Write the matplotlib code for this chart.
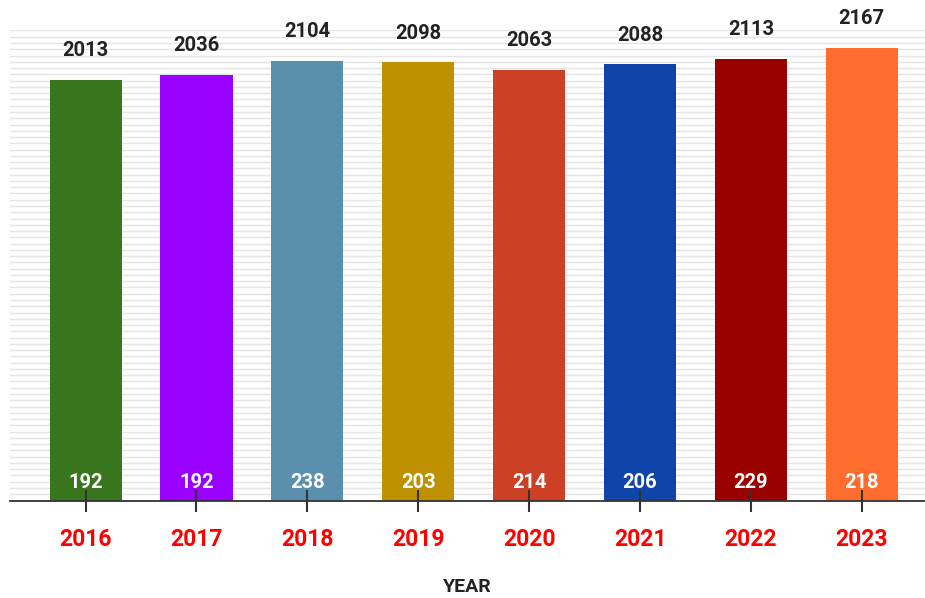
import matplotlib
matplotlib.use("Agg")
import matplotlib.pyplot as plt

# --------------------
# Data
# --------------------
years = ["2016", "2017", "2018", "2019", "2020", "2021", "2022", "2023"]
totals = [2013, 2036, 2104, 2098, 2063, 2088, 2113, 2167]
inner_values = [192, 192, 238, 203, 214, 206, 229, 218]
bar_colors = ["#38761d", "#9900ff", "#5a8fad", "#bf9000",
              "#cc4125", "#0f45a8", "#990000", "#ff6d2e"]

plt.rcParams["font.family"] = ["Roboto", "DejaVu Sans"]

fig = plt.figure(figsize=(9.25, 5.98), dpi=100)
ax = fig.add_axes([0.011, 0.163, 0.989, 0.786])

x = list(range(len(years)))
ax.bar(x, totals, width=0.65, color=bar_colors, zorder=3)

# gridlines every 30 units
ax.set_ylim(0, 2250)
ax.set_yticks(range(0, 2251, 30))
ax.grid(axis="y", color="#e4e4e4", linewidth=1.0)
ax.set_axisbelow(True)
ax.tick_params(axis="y", left=False, labelleft=False)

ax.set_xlim(-0.68, 7.57)
ax.set_xticks(x)
ax.set_xticklabels(years, color="#ff0000", fontsize=16.5, fontweight="bold")
ax.tick_params(axis="x", direction="inout", length=16, width=1.5,
               color="#333333", pad=12)
# x ticks drawn over the bars (they poke into them in the reference)
ax.xaxis.set_zorder(5)

for side in ["top", "right", "left"]:
    ax.spines[side].set_visible(False)
ax.spines["bottom"].set_color("#333333")
ax.spines["bottom"].set_linewidth(1.3)
ax.spines["bottom"].set_zorder(4)

# labels on top and inside bars
for xi, total, inner in zip(x, totals, inner_values):
    ax.text(xi, total + 140, str(total), ha="center", va="center",
            fontsize=14.5, fontweight="bold", color="#222222", clip_on=False)
    ax.text(xi, 87, str(inner), ha="center", va="center",
            fontsize=14.5, fontweight="bold", color="white", zorder=6)

ax.set_xlabel("YEAR", fontsize=14, fontweight="bold", color="#222222",
              labelpad=19)

fig.savefig("out.png", dpi=100)
print("[OK] Saved plot to out.png")
